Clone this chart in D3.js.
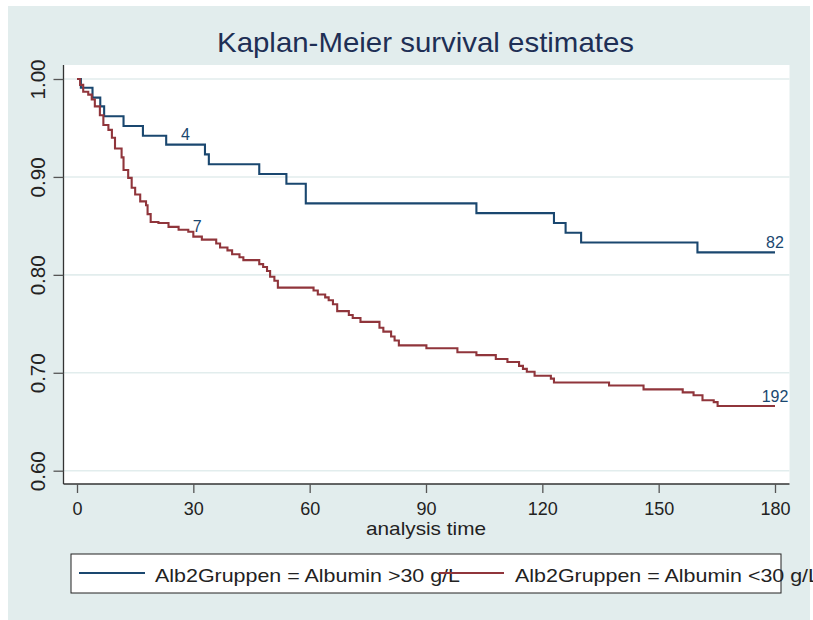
<!DOCTYPE html>
<html>
<head>
<meta charset="utf-8">
<script src="https://cdn.jsdelivr.net/npm/d3@7"></script>
<style>
  html, body { margin: 0; padding: 0; background: #ffffff; }
  svg { display: block; }
  text { font-family: "Liberation Sans", Arial, "DejaVu Sans", sans-serif; }
</style>
</head>
<body>
<div id="chart"></div>
<script>
// ---- Data ----
const titleText = "Kaplan-Meier survival estimates";
const xAxisTitle = "analysis time";
const xTicks = [0, 30, 60, 90, 120, 150, 180];
const yTicks = [0.60, 0.70, 0.80, 0.90, 1.00];

const groupNames = ["Alb2Gruppen = Albumin >30 g/L", "Alb2Gruppen = Albumin <30 g/L"];

// Albumin >30 g/L : step times and survival after each step
const highTimes = [0, 1, 4, 6, 7, 12, 17, 23, 33, 34, 47, 54, 59, 103, 123, 126, 130, 160, 180];
const highSurv  = [1.000, 0.991, 0.981, 0.972, 0.962, 0.952, 0.942, 0.933, 0.923, 0.913, 0.903, 0.893, 0.873, 0.863, 0.853, 0.843, 0.833, 0.823, 0.823];

// Albumin <30 g/L
const lowTimes = [0, 0.8, 1.6, 2.9, 3.8, 4.6, 5.9, 6.8, 8.1, 9.0, 9.8, 11.5, 12.0, 13.2, 14.1, 15.0, 16.3, 17.8, 18.2, 19.0,
  21.0, 23.6, 26.2, 28.7, 30.0, 32.2, 35.9, 36.9, 38.8, 40.0, 41.9, 42.9, 47.0, 48.0, 49.0, 49.8, 50.9, 51.8,
  61.0, 62.1, 64.0, 64.9, 66.0, 67.1, 70.1, 71.1, 73.1, 78.0, 79.0, 81.0, 81.9, 83.0, 90.1, 98.1, 103.0, 108.0,
  111.0, 114.0, 115.0, 116.0, 118.0, 122.2, 123.0, 137.2, 146.1, 156.2, 159.0, 161.3, 164.2, 165.2, 180];
const lowSurv = [1.000, 0.994, 0.987, 0.984, 0.979, 0.972, 0.963, 0.953, 0.948, 0.940, 0.929, 0.920, 0.907, 0.899, 0.889, 0.882, 0.875, 0.871, 0.862, 0.854,
  0.853, 0.849, 0.846, 0.844, 0.839, 0.836, 0.832, 0.828, 0.825, 0.821, 0.818, 0.815, 0.811, 0.808, 0.804, 0.798, 0.794, 0.787,
  0.784, 0.780, 0.777, 0.774, 0.770, 0.763, 0.759, 0.756, 0.752, 0.746, 0.742, 0.737, 0.733, 0.728, 0.725, 0.721, 0.718, 0.714,
  0.711, 0.707, 0.704, 0.701, 0.697, 0.694, 0.690, 0.687, 0.683, 0.680, 0.677, 0.672, 0.670, 0.666, 0.666];

// Number labels on the curves (group index, time, text)
const labelGroups = [0, 1, 0, 1];
const labelTimes  = [28, 31, 180, 180];
const labelTexts  = ["4", "7", "82", "192"];

// ---- Styles ----
const W = 813, H = 620;
const bg = "#e2eded";
const gridColor = "#e2eded";
const colors = ["#1a476f", "#90353b"];
const titleColor = "#1e2f55";

const svg = d3.select("#chart").append("svg").attr("width", W).attr("height", H);

// outer graph region
svg.append("rect").attr("x", 8).attr("y", 6).attr("width", W - 8 - 3).attr("height", H - 6).attr("fill", bg);

// plot region
const plot = { left: 63.5, right: 789.5, top: 65, bottom: 484 };
svg.append("rect").attr("x", plot.left).attr("y", plot.top)
  .attr("width", plot.right - plot.left).attr("height", plot.bottom - plot.top).attr("fill", "#ffffff");

const x = d3.scaleLinear().domain([0, 180]).range([77, 775]);
const y = d3.scaleLinear().domain([0.6, 1.0]).range([470.7, 79]);

// grid lines
svg.append("g").selectAll("line").data(yTicks).join("line")
  .attr("x1", plot.left).attr("x2", plot.right)
  .attr("y1", d => y(d)).attr("y2", d => y(d))
  .attr("stroke", gridColor).attr("stroke-width", 1.6);

// Axes
const yAxis = d3.axisLeft(y).tickValues(yTicks).tickSize(10).tickFormat(d3.format(".2f")).tickSizeOuter(0);
const gy = svg.append("g").attr("transform", `translate(${plot.left},0)`).call(yAxis);
gy.select(".domain").attr("d", `M0,${plot.top}V${plot.bottom}`).attr("stroke", "#333").attr("stroke-width", 1.3);
gy.selectAll(".tick line").attr("stroke", "#555").attr("stroke-width", 1.3);
gy.selectAll(".tick text")
  .attr("x", null).attr("dy", null)
  .attr("transform", "translate(-18.5,0) rotate(-90)")
  .attr("text-anchor", "middle")
  .attr("font-size", 21).attr("fill", "#222")
  .attr("textLength", 40).attr("lengthAdjust", "spacingAndGlyphs");

const xAxis = d3.axisBottom(x).tickValues(xTicks).tickSize(9).tickSizeOuter(0);
const gx = svg.append("g").attr("transform", `translate(0,${plot.bottom})`).call(xAxis);
gx.select(".domain").attr("d", `M${plot.left},0H${plot.right}`).attr("stroke", "#333").attr("stroke-width", 1.3);
gx.selectAll(".tick line").attr("stroke", "#555").attr("stroke-width", 1.3);
gx.selectAll(".tick text").attr("y", 31).attr("dy", null)
  .attr("font-size", 18).attr("fill", "#222");

// axis title
svg.append("text").attr("x", 426).attr("y", 535).attr("text-anchor", "middle")
  .attr("font-size", 19).attr("fill", "#222")
  .attr("textLength", 120).attr("lengthAdjust", "spacingAndGlyphs")
  .text(xAxisTitle);

// title
svg.append("text").attr("x", 425.5).attr("y", 52).attr("text-anchor", "middle")
  .attr("font-size", 28).attr("fill", titleColor)
  .attr("textLength", 417).attr("lengthAdjust", "spacingAndGlyphs")
  .text(titleText);

// curves
const series = [
  highTimes.map((t, i) => [t, highSurv[i]]),
  lowTimes.map((t, i) => [t, lowSurv[i]])
];
const line = d3.line().x(d => x(d[0])).y(d => y(d[1])).curve(d3.curveStepAfter);
svg.append("g").selectAll("path").data(series).join("path")
  .attr("d", line).attr("fill", "none")
  .attr("stroke", (d, i) => colors[i]).attr("stroke-width", 2.1)
  .attr("stroke-linejoin", "miter");

// number labels
function survAt(s, t) {
  let v = s[0][1];
  for (const p of s) { if (p[0] <= t) v = p[1]; }
  return v;
}
svg.append("g").selectAll("text").data(labelTexts).join("text")
  .attr("x", (d, i) => x(labelTimes[i]))
  .attr("y", (d, i) => y(survAt(series[labelGroups[i]], labelTimes[i])) - 4.5)
  .attr("text-anchor", "middle").attr("font-size", 16).attr("fill", colors[0])
  .text(d => d);

// legend
const lg = svg.append("g");
lg.append("rect").attr("x", 71).attr("y", 554).attr("width", 710).attr("height", 39)
  .attr("fill", "#ffffff").attr("stroke", "#222").attr("stroke-width", 1);
const legX = [{ lx1: 79, lx2: 145, tx: 155 }, { lx1: 439, lx2: 504, tx: 515 }];
groupNames.forEach((name, i) => {
  lg.append("line").attr("x1", legX[i].lx1).attr("x2", legX[i].lx2).attr("y1", 573).attr("y2", 573)
    .attr("stroke", colors[i]).attr("stroke-width", 2);
  lg.append("text").attr("x", legX[i].tx).attr("y", 581.5)
    .attr("font-size", 19).attr("fill", "#222")
    .attr("textLength", 305).attr("lengthAdjust", "spacingAndGlyphs")
    .text(name);
});
</script>
</body>
</html>
